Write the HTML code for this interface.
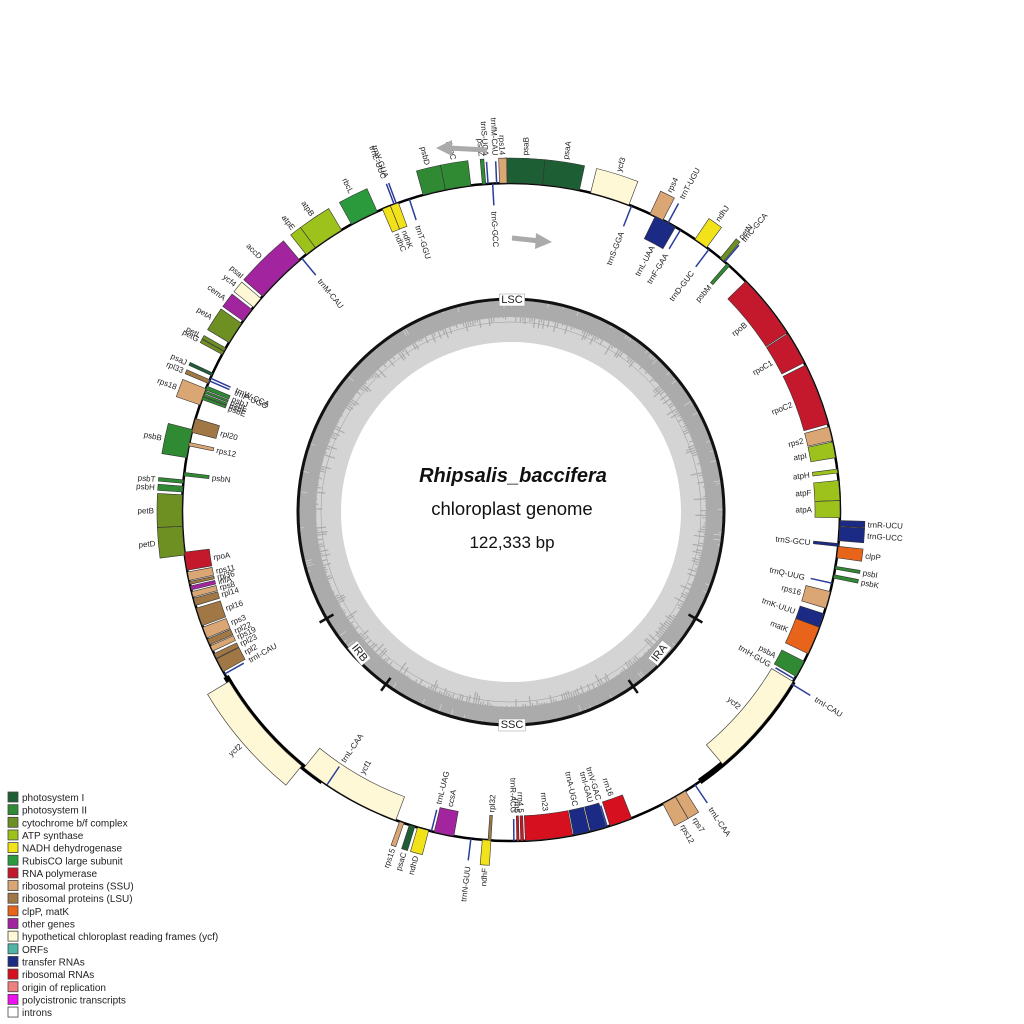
<!DOCTYPE html>
<html><head><meta charset="utf-8"><style>
html,body{margin:0;padding:0;background:#fff;}
svg{display:block;font-family:"Liberation Sans",sans-serif;}
</style></head><body>
<svg id="s" width="1024" height="1024" viewBox="0 0 1024 1024" xmlns="http://www.w3.org/2000/svg">
<rect width="1024" height="1024" fill="#fff"/>
<g id="gc"></g>
<g id="genes"></g>
<g id="labels" font-size="8" fill="#222"></g>
<text x="513" y="482" text-anchor="middle" font-size="20" font-weight="bold" font-style="italic" fill="#111">Rhipsalis_baccifera</text>
<text x="512" y="515" text-anchor="middle" font-size="18.5" fill="#111">chloroplast genome</text>
<text x="512" y="548" text-anchor="middle" font-size="17" fill="#111">122,333 bp</text>
<g stroke="#aaa" stroke-width="5" fill="#aaa">
<line x1="487" y1="150" x2="448" y2="148"/><polygon points="452,140 436,148 452,156" stroke="none"/>
<line x1="512" y1="238" x2="540" y2="241"/><polygon points="536,233 552,242 535,249" stroke="none"/>
</g>
<g id="legend" font-size="10" fill="#222"></g>
</svg>
<script>
var NS="http://www.w3.org/2000/svg",cx=511,cy=512,R=329;
function P(a,r){var t=a*Math.PI/180;return [cx+r*Math.sin(t),cy-r*Math.cos(t)];}
function el(n,at,par){var e=document.createElementNS(NS,n);for(var k in at)e.setAttribute(k,at[k]);par.appendChild(e);return e;}
function sector(a1,a2,r1,r2){var p1=P(a1,r2),p2=P(a2,r2),p3=P(a2,r1),p4=P(a1,r1),l=(a2-a1)>180?1:0;
return "M"+p1+" A"+r2+","+r2+" 0 "+l+" 1 "+p2+" L"+p3+" A"+r1+","+r1+" 0 "+l+" 0 "+p4+"Z";}
var gc=document.getElementById("gc"),G=document.getElementById("genes"),L=document.getElementById("labels");
el("circle",{cx:cx,cy:cy,r:191.5,fill:"none",stroke:"#d4d4d4","stroke-width":43},gc);
el("circle",{cx:cx,cy:cy,r:204,fill:"none",stroke:"#ababab","stroke-width":18},gc);
var seed=7;function rnd(){seed=(seed*16807)%2147483647;return seed/2147483647;}
for(var a=0;a<360;a+=0.7){var d=rnd();var r2=195-d*d*d*12;var p=P(a,195.5),q=P(a,r2);el("line",{x1:p[0],y1:p[1],x2:q[0],y2:q[1],stroke:"#ababab","stroke-width":1.2},gc);
 var u=rnd();if(u>0.8){var p2=P(a+0.35,213),q2=P(a+0.35,213-(u-0.8)*50);el("line",{x1:p2[0],y1:p2[1],x2:q2[0],y2:q2[1],stroke:"#d0d0d0","stroke-width":0.8},gc);}}
el("circle",{cx:cx,cy:cy,r:190,fill:"none",stroke:"#999","stroke-width":0.5},gc);
el("circle",{cx:cx,cy:cy,r:213,fill:"none",stroke:"#111","stroke-width":3},gc);
[120,145,216,240].forEach(function(a){var p=P(a,205),q=P(a,221);el("line",{x1:p[0],y1:p[1],x2:q[0],y2:q[1],stroke:"#111","stroke-width":2.5},gc);});
function lab(t,x,y,rot){var e=el("text",{x:x,y:y,"text-anchor":"middle","font-size":11,fill:"#222",transform:rot?"rotate("+rot+" "+x+" "+y+")":""},gc);e.textContent=t;var bb=e.getBBox();var r=el("rect",{x:bb.x-2,y:bb.y,width:bb.width+4,height:bb.height,fill:"#fff",stroke:"#999","stroke-width":0.5,transform:e.getAttribute("transform")},gc);gc.insertBefore(r,e);}
lab("LSC",512,303,0);lab("SSC",512,728,0);lab("IRA",662,655,-52);lab("IRB",357,655,52);
el("circle",{cx:cx,cy:cy,r:R,fill:"none",stroke:"#000","stroke-width":2.5},G);
function thick(a1,a2){el("path",{d:"M"+P(a1,R)+" A"+R+","+R+" 0 0 1 "+P(a2,R),fill:"none",stroke:"#000","stroke-width":6},G);}
thick(121,145);thick(215,240);
var C={psI:"#1d5e34",psII:"#2f8a33",cyt:"#6e8f22",atp:"#9ec21c",ndh:"#f2e21a",rbc:"#2a9a3c",rpo:"#c4182c",ssu:"#d9a674",lsu:"#a17845",clp:"#e8641a",oth:"#a2249e",ycf:"#fff8d6",trn:"#1b2a84",rrn:"#d7101f"};
var g=[
["psaB",-1,5.5,1,"psI"],["psaA",5.5,12,1,"psI"],["ycf3",14,21,1,"ycf"],["rps4",25,27.5,1,"ssu"],["ndhJ",34,36.5,1,"ndh"],["petN",39.5,40.3,1,"cyt"],
["trnR-UCU",91.5,92.5,1,"trn"],["trnG-UCC",92.6,95,1,"trn"],["clpP",96,98,1,"clp"],["psbI",99.5,100,1,"psII"],["psbK",101,101.6,1,"psII"],
["rps7",148,150,1,"ssu"],["rps12",150,152.5,1,"ssu"],["ndhF",183.5,185,1,"ndh"],["ndhD",194.5,196.5,1,"ndh"],["psaC",197,198,1,"psI"],["rps15",199,199.8,1,"ssu"],
["ycf2",219.5,239,1,"ycf"],["petD",262.5,267.5,1,"cyt"],["petB",267.5,273,1,"cyt"],["psbH",273.5,274.5,1,"psII"],["psbT",275,275.6,1,"psII"],["psbB",279.5,284.5,1,"psII"],
["rps18",289,292,1,"ssu"],["rpl33",293,293.7,1,"lsu"],["psaJ",294.5,295,1,"psI"],["petG",298.6,299.2,1,"cyt"],["petL",299.3,299.9,1,"cyt"],
["petA",301,305,1,"cyt"],["cemA",305.5,308,1,"oth"],["ycf4",308.5,310.5,1,"ycf"],["psaI",311,311.5,1,"psI"],
["accD",311,320,1,"oth"],["atpE",321.5,323.5,1,"atp"],["atpB",323.5,329,1,"atp"],["rbcL",331,336,1,"rbc"],["psbD",344.5,348.5,1,"psII"],["psbC",348.5,353,1,"psII"],
["psbZ",355,355.6,1,"psII"],["rps14",358,359.3,1,"ssu"],
["rpoB",45.5,57,-1,"rpo"],["rpoC1",57.2,63,-1,"rpo"],["rpoC2",63.5,74.5,-1,"rpo"],["rps2",75,77.5,-1,"ssu"],["atpI",77.7,80.5,-1,"atp"],["atpH",82.5,83.2,-1,"atp"],
["atpF",84.5,88,-1,"atp"],["atpA",88,91,-1,"atp"],["rps16",104,107,-1,"ssu"],["trnK-UUU",108,110.5,-1,"trn"],["matK",110.5,115.5,-1,"clp"],["psbA",117,120,-1,"psII"],
["ycf2",121,140,-1,"ycf"],["rrn16",158.5,162.5,-1,"rrn"],["trnI-GAU",163.2,166,-1,"trn"],["trnA-UGC",166.2,169,-1,"trn"],["rrn23",169.2,177.5,-1,"rrn"],
["rrn4.5",177.8,178.3,-1,"rrn"],["rrn5",178.6,179,-1,"rrn"],["rpl32",183.5,184,-1,"lsu"],["ccsA",190,193.5,-1,"oth"],["ycf1",200.5,219,-1,"ycf"],
["rpl2",241,243.5,-1,"lsu"],["rpl23",243.6,244.5,-1,"lsu"],["rps19",245,246,-1,"ssu"],["rpl22",246.2,247.3,-1,"lsu"],["rps3",247.5,249.5,-1,"ssu"],["rpl16",249.8,253,-1,"lsu"],
["rpl14",253.5,254.8,-1,"lsu"],["rps8",255,256,-1,"ssu"],["infA",256.3,257,-1,"oth"],["rpl36",257.3,257.8,-1,"lsu"],["rps11",258,259.5,-1,"ssu"],["rpoA",259.8,263,-1,"rpo"],
["rps12",281.6,282.2,-1,"ssu"],["rpl20",284,286.5,-1,"lsu"],["psbE",290,290.5,-1,"psII"],["psbF",290.6,291,-1,"psII"],["psbL",291.2,291.6,-1,"psII"],["psbJ",291.8,292.5,-1,"psII"],
["psbN",276.3,276.9,-1,"psII"],["ndhC",337,338.5,-1,"ndh"],["ndhK",338.5,340,-1,"ndh"],["psbM",41,41.6,-1,"psII"],["trnL-UAA",26,30,-1,"trn"],["trnS-GCU",95.5,96,-1,"trn"]
];
var trn=[["trnT-UGU",28.5,1],["trnS-GGA",21.5,-1],["trnF-GAA",31,-1],["trnD-GUC",37,-1],["trnC-GCA",40.5,1],["trnQ-UUG",102.5,-1],["trnH-GUG",120.5,-1],["trnI-CAU",121.5,1],
["trnL-CAA",146,1],["trnV-GAC",163,-1],["trnN-GUU",187,1],["trnR-ACG",179.5,-1],["trnL-UAG",194,-1],["trnL-CAA",214,-1],["trnI-CAU",240.5,-1],["trnP-UGG",293.5,-1],["trnW-CCA",294,-1],
["trnM-CAU",320.5,-1],["trnE-UUC",339.2,1],["trnY-GUA",339.6,1],["trnT-GGU",342,-1],["trnS-UGA",356,1],["trnG-GCC",356.8,-1],["trnfM-CAU",357.5,1]];
g.forEach(function(x){var a1=x[1],a2=x[2],s=x[3];var r1=s>0?R:R-25,r2=s>0?R+25:R;
 el("path",{d:sector(a1,a2,r1,r2),fill:C[x[4]],stroke:"#333","stroke-width":0.6},G);});
trn.forEach(function(x){var a=x[1],s=x[2];var p=P(a,s>0?R:R-22),q=P(a,s>0?R+22:R);el("line",{x1:p[0],y1:p[1],x2:q[0],y2:q[1],stroke:"#2b3d99","stroke-width":1.5},G);
 g.push([x[0],a,a,s,"trn"]);});
g.forEach(function(x){var a=(x[1]+x[2])/2,s=x[3];var an=((a%360)+360)%360;var r=s>0?R+28:R-28;var p=P(a,r);var right=an<180;
 var rot,anc;if(s>0){rot=right?an-90:an+90;anc=right?"start":"end";}else{rot=right?an-90:an+90;anc=right?"end":"start";}
 var t=el("text",{x:p[0],y:p[1]+3,"text-anchor":anc,transform:"rotate("+rot+" "+p[0]+" "+p[1]+")"},L);t.textContent=x[0];});
var lg=[["#1d5e34","photosystem I"],["#2f8a33","photosystem II"],["#6e8f22","cytochrome b/f complex"],["#9ec21c","ATP synthase"],["#f2e21a","NADH dehydrogenase"],["#2a9a3c","RubisCO large subunit"],["#c4182c","RNA polymerase"],["#d9a674","ribosomal proteins (SSU)"],["#a17845","ribosomal proteins (LSU)"],["#e8641a","clpP, matK"],["#a2249e","other genes"],["#fff8d6","hypothetical chloroplast reading frames (ycf)"],["#4fb3a6","ORFs"],["#1b2a84","transfer RNAs"],["#d7101f","ribosomal RNAs"],["#ee8080","origin of replication"],["#ee10ee","polycistronic transcripts"],["#ffffff","introns"]];
var LG=document.getElementById("legend");
lg.forEach(function(x,i){var y=792+i*12.65;el("rect",{x:8,y:y,width:10,height:10,fill:x[0],stroke:"#444","stroke-width":0.8},LG);var t=el("text",{x:22,y:y+9},LG);t.textContent=x[1];});
</script>
</body></html>
